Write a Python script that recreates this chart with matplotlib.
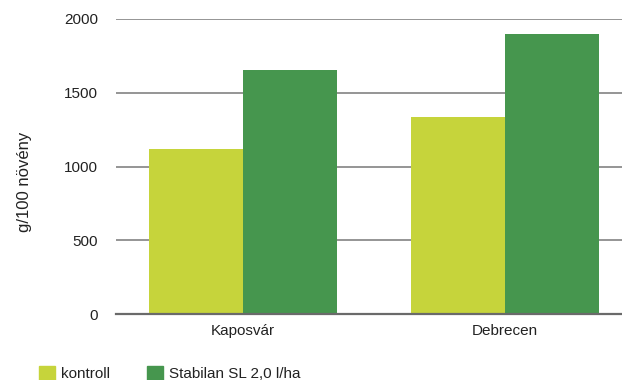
import matplotlib
matplotlib.use("Agg")
import matplotlib.pyplot as plt
import numpy as np

plt.rcParams["font.family"] = ["Liberation Sans", "DejaVu Sans"]

categories = ["Kaposvár", "Debrecen"]
series_names = ["kontroll", "Stabilan SL 2,0 l/ha"]
kontroll = [1120, 1335]
stabilan = [1655, 1900]
yticks = [0, 500, 1000, 1500, 2000]
colors = ["#C6D43B", "#46964E"]
text_color = "#222222"

W, H = 622, 380
fig = plt.figure(figsize=(W / 100, H / 100), dpi=100)
left, right, bottom, top = 116, 640, 314, 19
ax = fig.add_axes([left / W, 1 - bottom / H, (right - left) / W, (bottom - top) / H])

x = np.arange(len(categories))
bw = 0.36
ax.bar(x - bw / 2, kontroll, bw, color=colors[0], zorder=3)
ax.bar(x + bw / 2, stabilan, bw, color=colors[1], zorder=3)

ax.set_xlim(-0.485, 1.515)
ax.set_ylim(0, 2000)
ax.set_yticks(yticks)
ax.set_yticklabels([str(v) for v in yticks])
ax.set_xticks(x)
ax.set_xticklabels(categories)
for s in ax.spines.values():
    s.set_visible(False)
for v in yticks[1:]:
    ax.axhline(v, color="#8c8c8c", lw=1.3, zorder=1)
ax.axhline(0, color="#6a6a6a", lw=1.6, zorder=4, clip_on=False)
ax.tick_params(axis="both", length=0, labelsize=11, colors=text_color)
ax.tick_params(axis="y", pad=13)
ax.tick_params(axis="x", pad=7)

fig.text(24 / W, 1 - 182 / H, "g/100 növény", rotation=90, ha="center",
         va="center", fontsize=12, color=text_color)

handles = [plt.Rectangle((0, 0), 1, 1, color=c) for c in colors]
fig.legend(handles, series_names, loc="lower left", bbox_to_anchor=(39 / W, -1 / H),
           ncol=2, frameon=False, fontsize=11, handlelength=1.05, handleheight=1.05,
           handletextpad=0.4, columnspacing=2.4, borderpad=0, borderaxespad=0,
           labelcolor=text_color)

fig.savefig("out.png", dpi=100)
